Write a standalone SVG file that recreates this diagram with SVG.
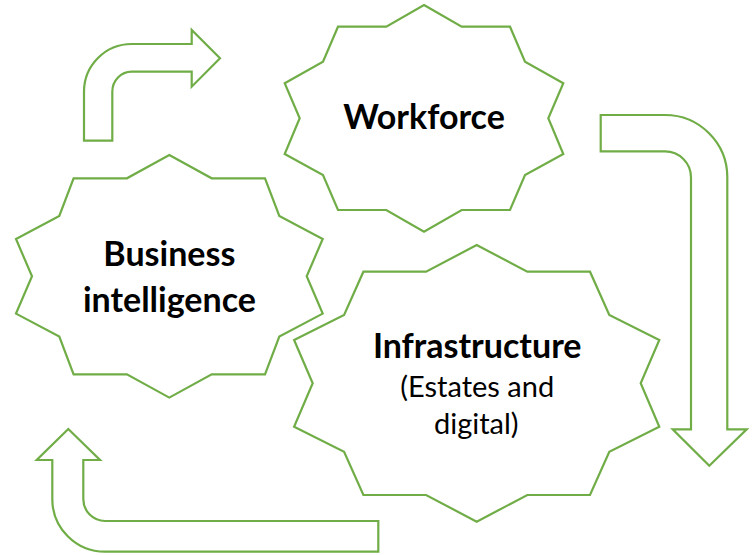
<svg xmlns="http://www.w3.org/2000/svg" width="756" height="555" viewBox="0 0 756 555">
<style>
.shape{fill:#FFFFFF;stroke:#70AD47;stroke-width:2.2;stroke-linejoin:miter}
.arrow{fill:#FFFFFF;stroke:#70AD47;stroke-width:2.2;stroke-linejoin:miter}
.b{font-family:Lato,"Liberation Sans",sans-serif;font-weight:bold;font-size:34px;fill:#000000;text-anchor:middle}
.r{font-family:Lato,"Liberation Sans",sans-serif;font-size:29px;fill:#000000;text-anchor:middle}
</style>
<rect width="756" height="555" fill="#FFFFFF"/>
<g id="connectors">
<path class="arrow" d="M84,140.7 L84,91.7 A47.7,47.7 0 0 1 131.7,44 L191.7,44 L191.7,30 L220,58.3 L191.7,86.7 L191.7,71.7 L131.7,71.7 A19.4,20 0 0 0 112.3,91.7 L112.3,140.7 Z"/>
<path class="arrow" d="M600.7,115 L665,115 A62.3,62.3 0 0 1 727.3,177.3 L727.3,429.3 L746.7,429.3 L709.3,465.7 L672.7,429.3 L691,429.3 L691,177.3 A26,26 0 0 0 665,151.3 L600.7,151.3 Z"/>
<path class="arrow" d="M378.3,521 L378.3,551.7 L105,551.7 A52.7,52.7 0 0 1 52.3,499 L52.3,460 L36.7,460 L68.3,429 L100,460 L83.3,460 L83.3,499 A21.7,22 0 0 0 105,521 Z"/>
</g>
<g id="workforce">
<polygon class="shape" points="424,5 461.7,26.7 510,26.7 525,61.7 563.3,83.3 548.3,118.3 563.3,154 525,175 510,210 461.7,210 424,231.7 386.3,210 338,210 323,175 284.7,154 299.7,118.3 284.7,83.3 323,61.7 338,26.7 386.3,26.7"/>
<text class="b" x="424" y="129.3">Workforce</text>
</g>
<g id="business-intelligence">
<polygon class="shape" points="169.3,155 211.7,178.3 265,178.3 279.3,216 322.7,239 306.7,276.3 322.7,313.6 279.3,336.6 265,374.3 211.7,374.3 169.3,397.6 126.9,374.3 73.6,374.3 59.3,336.6 16,313.6 32,276.3 16,239 59.3,216 73.6,178.3 126.9,178.3"/>
<text class="b" x="169.4" y="266">Business</text>
<text class="b" x="169.4" y="311.7">intelligence</text>
</g>
<g id="infrastructure">
<polygon class="shape" points="476.7,245 527.3,271.7 590,271.7 609.3,315 659.3,340 640.7,383.3 659.3,426.7 609.3,451.7 590,495 527.3,495 476.7,521.7 426.1,495 363.4,495 344.1,451.7 294.1,426.7 312.7,383.3 294.1,340 344.1,315 363.4,271.7 426.1,271.7"/>
<text class="b" x="477.2" y="357.7">Infrastructure</text>
<text class="r" x="477.2" y="396.7">(Estates and</text>
<text class="r" x="476.3" y="434">digital)</text>
</g>
</svg>
